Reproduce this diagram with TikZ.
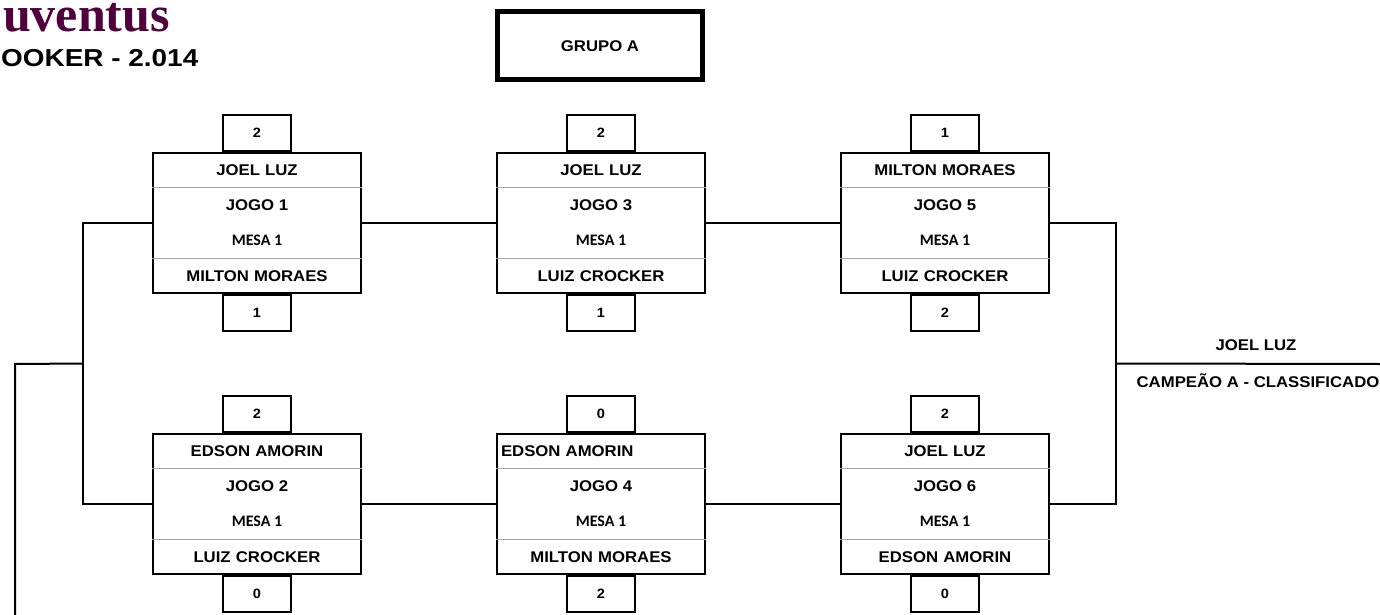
\documentclass[tikz,border=0pt]{standalone}
\usepackage{fontspec}
\setmainfont{Liberation Sans}[FakeStretch=1.08]
\newfontfamily\mesafont{Carlito}
\newfontfamily\clubefont{Liberation Serif}
\newfontfamily\torneiofont{Liberation Sans}[FakeStretch=1.14]
\usetikzlibrary{positioning,calc}
\definecolor{juventus}{RGB}{80,0,60}
\tikzset{
    caixajogo/.style={
        rectangle,                 % caixa principal de cada jogo
        draw,
        line width=2pt,            % borda grossa
        minimum width=208pt,
        minimum height=140pt,
        inner sep=0pt
    },
    linhanome/.style={
        rectangle,                 % faixa com o nome do jogador
        minimum height=35pt,
        text width=200pt,
        inner sep=4pt,
        font=\bfseries\fontsize{15.5}{17}\selectfont
    },
    textojogo/.style={
        inner sep=0pt,
        font=\bfseries\fontsize{15.5}{17}\selectfont
    },
    textomesa/.style={
        inner sep=0pt,
        font=\mesafont\bfseries\fontsize{16}{17}\selectfont
    },
    placar/.style={
        rectangle,                 % caixinha do placar
        draw,
        line width=2pt,
        minimum width=68pt,
        minimum height=36pt,
        inner sep=0pt,
        font=\bfseries\fontsize{13.5}{15}\selectfont
    },
    separador/.style={gray!70, line width=1pt},
    ligacao/.style={line width=2pt}
}
% #1 nome, #2 posicao, #3 numero, #4 jogador de cima, #5 alinhamento,
% #6 jogador de baixo, #7 placar de cima, #8 placar de baixo
\newcommand{\jogo}[8]{%
    \node[caixajogo, #2] (#1) {};
    \node[linhanome, align=#5, anchor=north] (#1-cima) at (#1.north) {#4};
    \node[linhanome, align=center, anchor=south] (#1-baixo) at (#1.south) {#6};
    \node[textojogo] (#1-num) at ($(#1.north)+(0,53)$) {JOGO #3};
    \node[textomesa] (#1-mesa) at ($(#1.north)+(0,88)$) {MESA 1};
    \draw[separador] (#1.west |- #1-cima.south) -- (#1.east |- #1-cima.south);
    \draw[separador] (#1.west |- #1-baixo.north) -- (#1.east |- #1-baixo.north);
    \node[placar, anchor=south] (#1-p1) at (#1.north) {#7};
    \node[placar, anchor=north] (#1-p2) at (#1.south) {#8};
}
\begin{document}
\begin{tikzpicture}[x=1pt, y=-1pt]
    \useasboundingbox (0,0) rectangle (1380,615);

    % cabecalho
    \node[anchor=base east, inner sep=0pt, text=juventus,
        font=\clubefont\bfseries\fontsize{50}{50}\selectfont] (clube) at (170,32) {uventus};
    \node[anchor=base west, inner sep=0pt,
        font=\torneiofont\bfseries\fontsize{24.5}{26}\selectfont] (torneio) at (1,67) {OOKER - 2.014};
    \node[draw, line width=5pt, minimum width=205pt, minimum height=68pt,
        font=\bfseries\fontsize{15.5}{17}\selectfont] (grupo) at (600,46) {GRUPO A};

    % jogos
    \jogo{j1}{at={(257,223)}}{1}{JOEL LUZ}{center}{MILTON MORAES}{2}{1}
    \jogo{j3}{right=134pt of j1}{3}{JOEL LUZ}{center}{LUIZ CROCKER}{2}{1}
    \jogo{j5}{right=134pt of j3}{5}{MILTON MORAES}{center}{LUIZ CROCKER}{1}{2}
    \jogo{j2}{below=139pt of j1}{2}{EDSON AMORIN}{center}{LUIZ CROCKER}{2}{0}
    \jogo{j4}{right=134pt of j2}{4}{EDSON AMORIN}{left}{MILTON MORAES}{0}{2}
    \jogo{j6}{right=134pt of j4}{6}{JOEL LUZ}{center}{EDSON AMORIN}{2}{0}

    % ligacoes
    \draw[ligacao] (j1) -- (j3);
    \draw[ligacao] (j3) -- (j5);
    \draw[ligacao] (j2) -- (j4);
    \draw[ligacao] (j4) -- (j6);
    \draw[ligacao] (j1.west) -- ++(-69,0) |- (j2.west);
    \draw[ligacao] (j5.east) -- ++(66,0) |- (j6.east);

    \coordinate (meioesq) at ($(j1.west)!0.5!(j2.west)+(-69,0)$);
    \coordinate (saida) at (15,364);
    \coordinate (saidafim) at (15,615);
    \draw[ligacao] (meioesq) -- (saida) -- (saidafim);

    % campeao do grupo
    \coordinate (meiodir) at ($(j5.east)!0.5!(j6.east)+(66,0)$);
    \coordinate (fimcampeao) at (1380,364);
    \draw[ligacao] (meiodir) -- (fimcampeao);
    \node[textojogo] (campeao) at (1256,345) {JOEL LUZ};
    \node[textojogo] (classificado) at (1258,381) {CAMPEÃO A - CLASSIFICADO};
\end{tikzpicture}
\end{document}
